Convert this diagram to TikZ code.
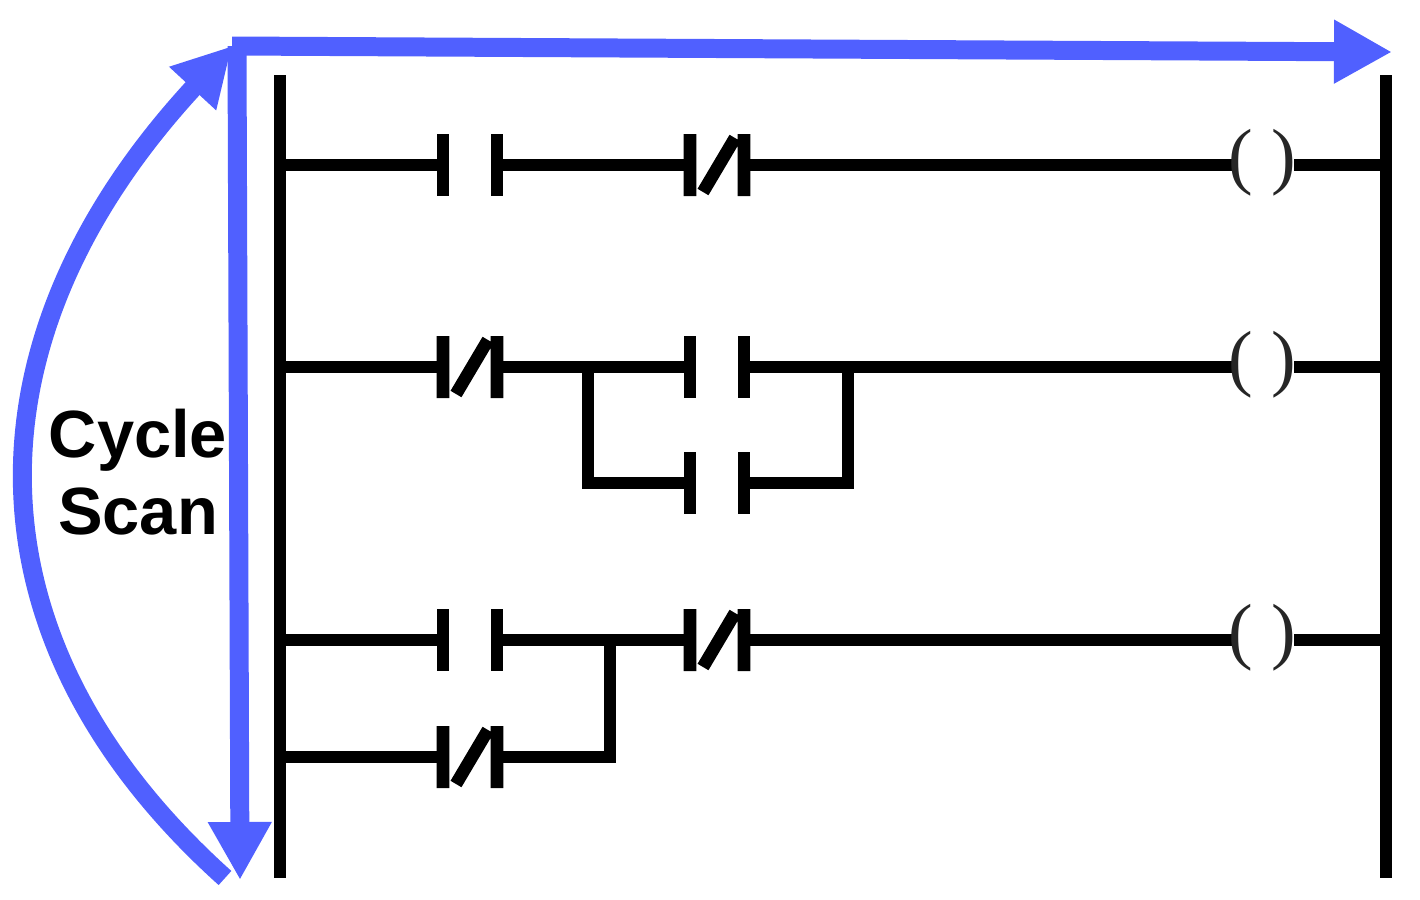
\documentclass[tikz,border=0pt]{standalone}
\usepackage{fontspec}
\newfontfamily\lab{Liberation Sans}
\newfontfamily\coilf{Liberation Serif}
\usetikzlibrary{arrows.meta}
\definecolor{scanblue}{RGB}{80,96,255}
\tikzset{
 wire/.style={line width=3.6pt},
 blue/.style={draw=scanblue,line width=5.4pt},
 scantip/.style={-{Triangle[length=16.5pt,width=17pt]}},
 contactbar/.style={line width=3.6pt},
 no/.pic={\draw[contactbar] (0,-31)--(0,31) (54,-31)--(54,31);},
 nc/.pic={\draw[contactbar] (0,-31)--(0,31) (54,-31)--(54,31) (13,27)--(45,-27);},
 coil/.style={font=\coilf\fontsize{21}{21}\selectfont, inner sep=0pt, text=black!85}
}
\begin{document}
\begin{tikzpicture}[x=0.01cm,y=-0.01cm]
\useasboundingbox (0,0) rectangle (1420,900);
% rails
\draw[line width=3.6pt] (280,75)--(280,878);
\draw[line width=3.6pt] (1386,75)--(1386,878);
% blue arrows
\coordinate (tl) at (232,46);
\coordinate (tr) at (1392,52);
\coordinate (bl) at (240,880);
\coordinate (cs0) at (225,878);
\draw[blue,scantip] (tl)--(tr);
\draw[blue,scantip] (237,46)--(bl);
\draw[blue,scantip] (cs0) .. controls (-40,640) and (-40,340) .. (tl);
\node[font=\lab\bfseries\fontsize{19}{22}\selectfont,align=center] (cs) at (138,472) {Cycle\\Scan};
% rung 1
\draw[wire] (280,165)--(443,165) (497,165)--(690,165) (745,165)--(1232,165) (1294,165)--(1386,165);
\pic at (443,165) {no}; \pic at (690,165) {nc};
\node[coil] (c1) at (1262,163) {( )};
% rung 2
\draw[wire] (280,367)--(443,367) (497,367)--(690,367) (745,367)--(1232,367) (1294,367)--(1386,367);
\draw[wire] (588,367)--(588,483)--(690,483) (745,483)--(848,483)--(848,367);
\pic at (443,367) {nc}; \pic at (690,367) {no}; \pic at (690,483) {no};
\node[coil] (c2) at (1262,365) {( )};
% rung 3
\draw[wire] (280,640)--(443,640) (497,640)--(690,640) (745,640)--(1232,640) (1294,640)--(1386,640);
\draw[wire] (280,757)--(443,757) (497,757)--(610,757)--(610,640);
\pic at (443,640) {no}; \pic at (690,640) {nc}; \pic at (443,757) {nc};
\node[coil] (c3) at (1262,638) {( )};
\end{tikzpicture}
\end{document}
